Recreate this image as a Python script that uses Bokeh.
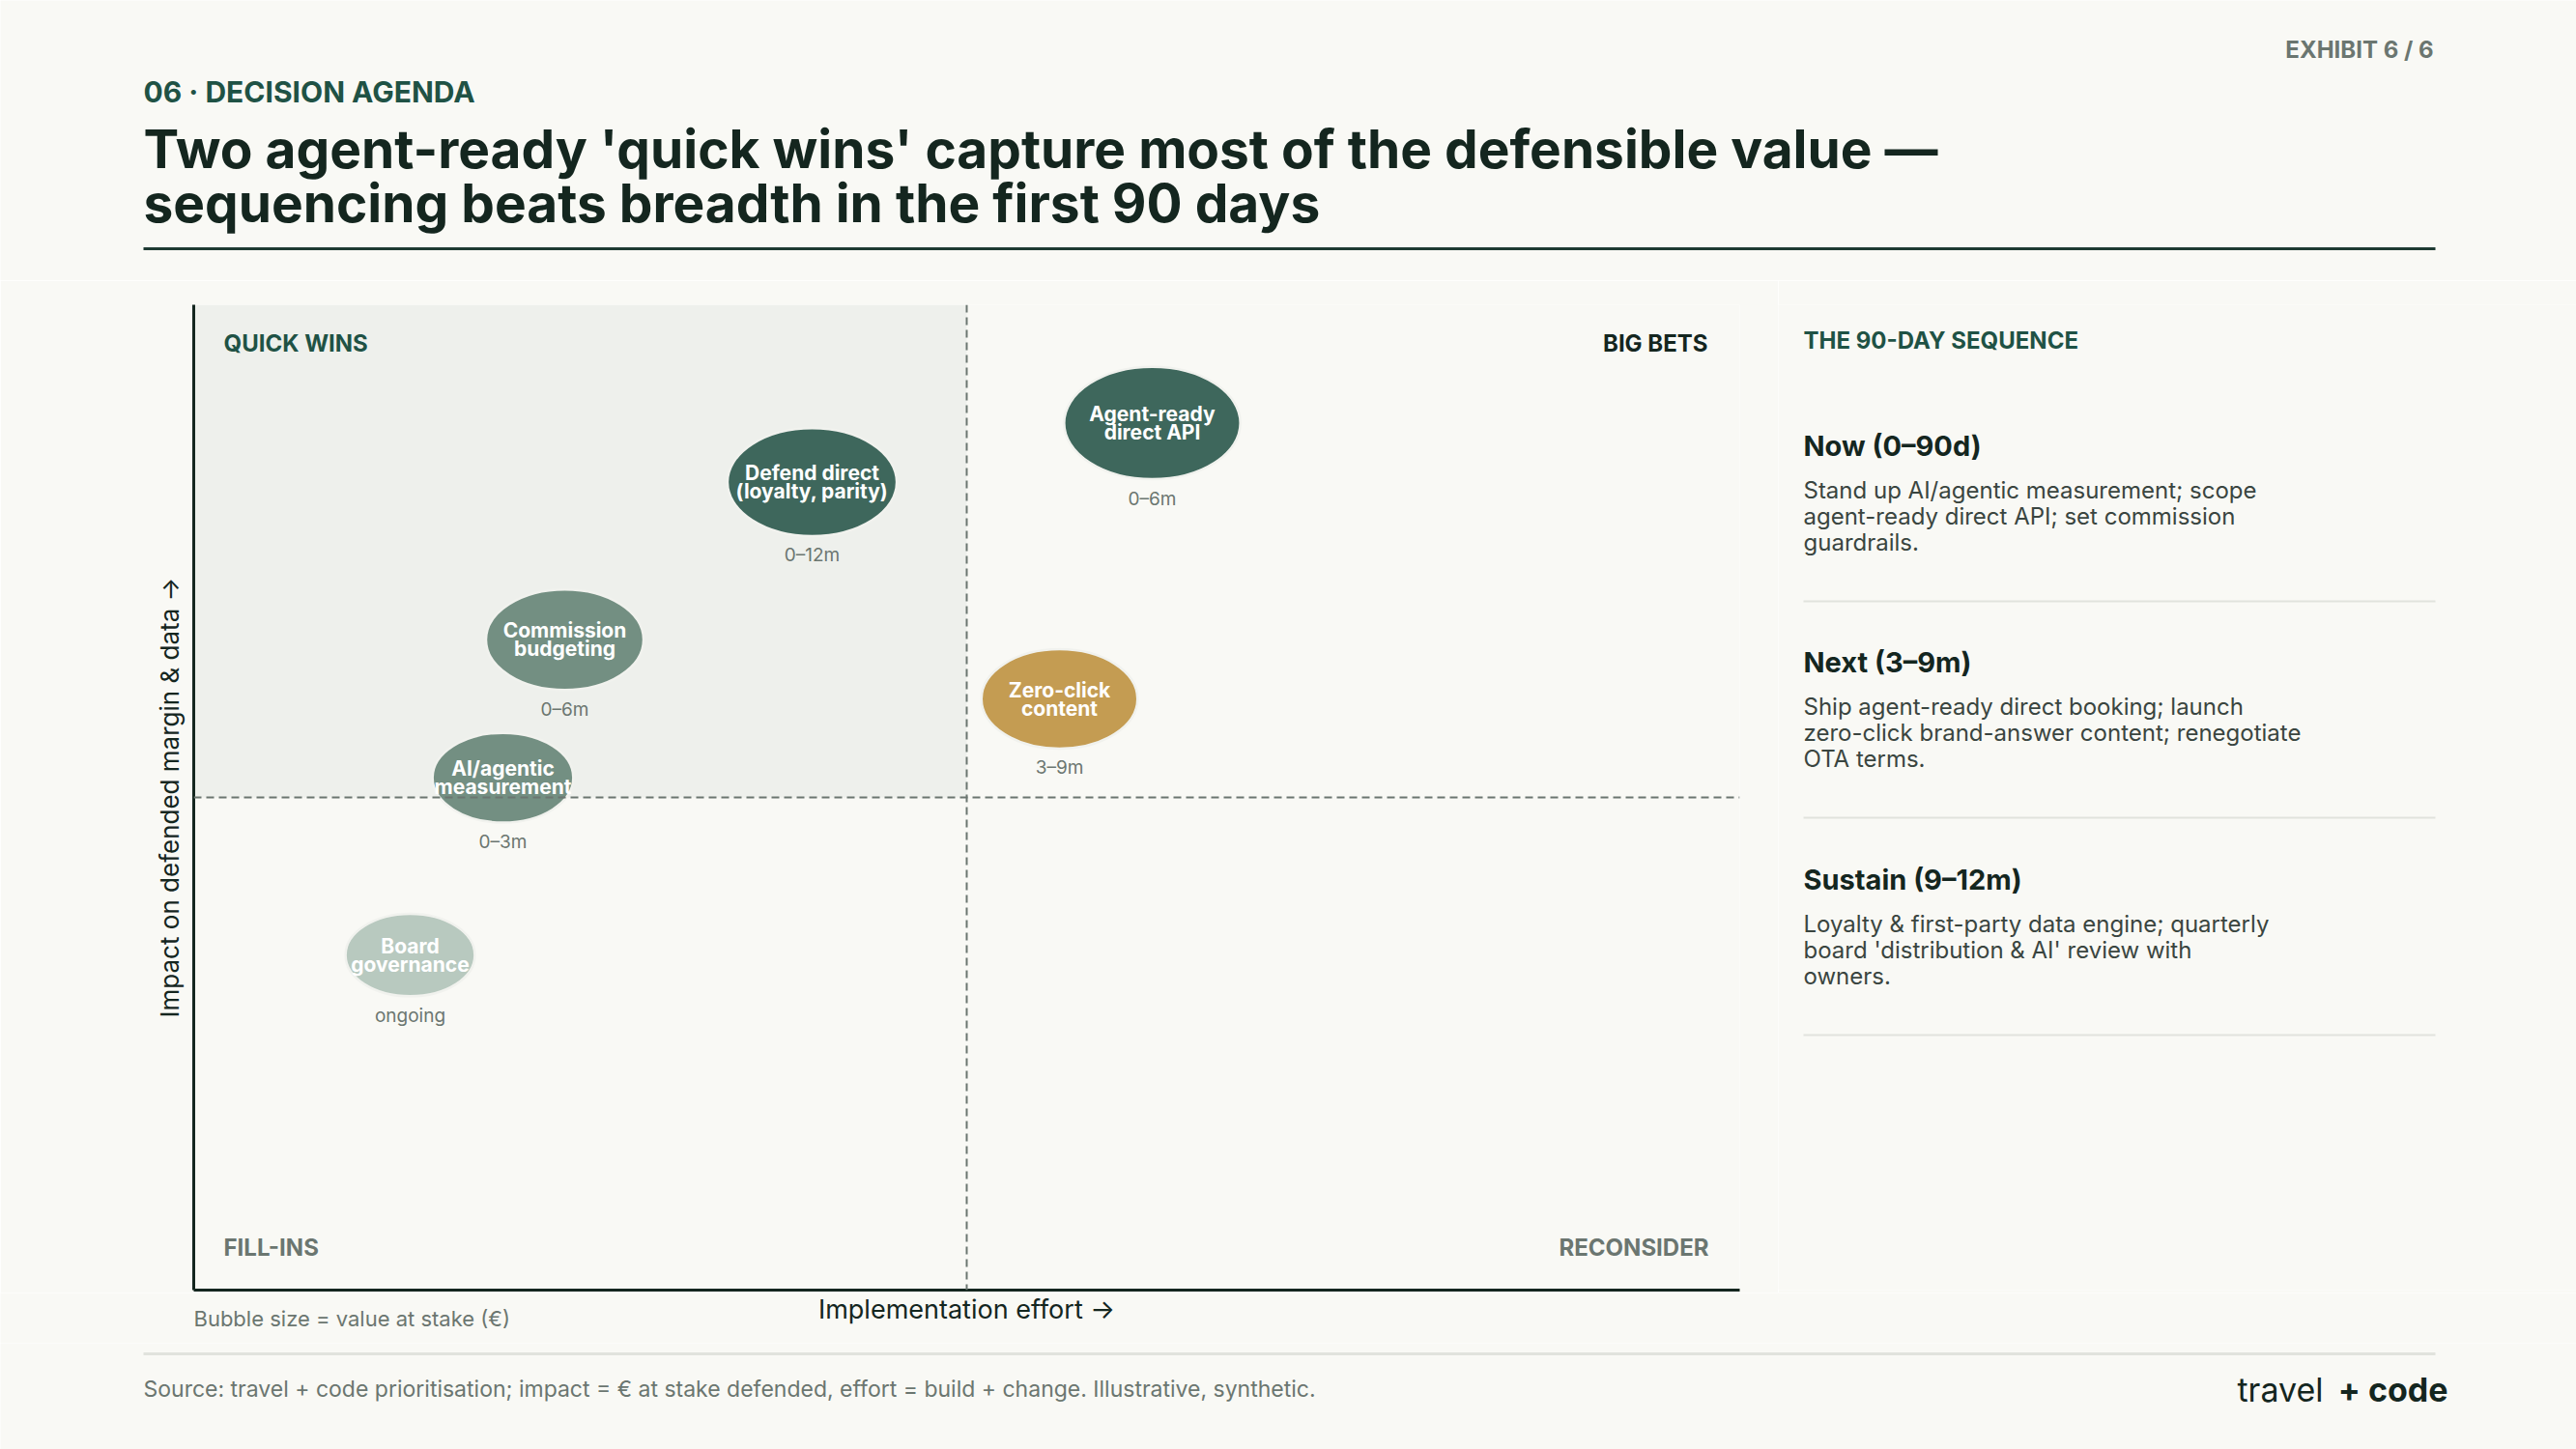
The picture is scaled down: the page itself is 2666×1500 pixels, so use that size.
from bokeh.plotting import figure
from bokeh.layouts import column, row
from bokeh.models import Range1d, Span, FixedTicker, ColumnDataSource
from bokeh.core.properties import value
from bokeh.embed import file_html
from bokeh.resources import INLINE
import math

# ---------------- data ----------------
initiatives = ["Agent-ready\ndirect API", "Defend direct\n(loyalty, parity)", "Commission\nbudgeting",
               "AI/agentic\nmeasurement", "Zero-click\ncontent", "Board\ngovernance"]
effort = [6.2, 4.0, 2.4, 2.0, 5.6, 1.4]          # implementation effort (0-10)
impact = [8.8, 8.2, 6.6, 5.2, 6.0, 3.4]          # impact on defended margin & data (0-10)
value_at_stake = [13.0, 12.0, 10.4, 8.3, 10.2, 7.0]  # € at stake (bubble size)
timing = ["0–6m", "0–12m", "0–6m", "0–3m", "3–9m", "ongoing"]
tier = ["core", "core", "support", "support", "content", "governance"]

effort_threshold = 5
impact_threshold = 5
axis_max = 10

quadrant_names = ["QUICK WINS", "BIG BETS", "FILL-INS", "RECONSIDER"]

seq_heads = ["Now (0–90d)", "Next (3–9m)", "Sustain (9–12m)"]
seq_body = [
    ["Stand up AI/agentic measurement; scope", "agent-ready direct API; set commission", "guardrails."],
    ["Ship agent-ready direct booking; launch", "zero-click brand-answer content; renegotiate", "OTA terms."],
    ["Loyalty & first-party data engine; quarterly", "board 'distribution & AI' review with", "owners."],
]

kicker = "06 · DECISION AGENDA"
title_lines = ["Two agent-ready 'quick wins' capture most of the defensible value —",
               "sequencing beats breadth in the first 90 days"]
exhibit = "EXHIBIT 6 / 6"
source_note = "Source: travel + code prioritisation; impact = € at stake defended, effort = build + change. Illustrative, synthetic."
size_note = "Bubble size = value at stake (€)"
x_label = "Implementation effort →"
y_label = "Impact on defended margin & data →"

# ---------------- style ----------------
BG = "#F9F9F5"
FONT = "Inter"
DARK = "#14261F"
TEAL = "#1F5245"
GRAY = "#6B7670"
BODY = "#3A4540"
RULE_LIGHT = "#E1E3DD"
tier_colors = {"core": "#3E675C", "support": "#738F82", "content": "#C49C52", "governance": "#B8C9BF"}


def base(w, h, xr, yr, **kw):
    f = figure(width=w, height=h, x_range=Range1d(*xr), y_range=Range1d(*yr),
               output_backend="svg", toolbar_location=None,
               x_axis_location=None, y_axis_location=None, **kw)
    f.grid.visible = False
    f.outline_line_color = None
    f.background_fill_color = BG
    f.border_fill_color = BG
    return f


def txt(f, x, y, s, size, color, style="normal", align="left", baseline="middle"):
    f.text(x=[x], y=[y], text=[s], text_font=value(FONT), text_font_size=f"{size}px",
           text_font_style=style, text_color=color, text_align=align, text_baseline=baseline)


W = 2666

# ---------------- header ----------------
head = base(W, 290, (0, W), (290, 0), min_border=0)
txt(head, 148, 94, kicker, 30, TEAL, "bold")
txt(head, 148, 153, title_lines[0], 55, DARK, "bold")
txt(head, 148, 209, title_lines[1], 55, DARK, "bold")
txt(head, 2518, 51, exhibit, 24, GRAY, "bold", align="right")
head.segment(x0=[148], y0=[257], x1=[2520], y1=[257], line_color="#1E3A32", line_width=3)

# ---------------- chart ----------------
chart = figure(width=1840, height=1048, x_range=Range1d(0, axis_max), y_range=Range1d(0, axis_max),
               output_backend="svg", toolbar_location=None,
               min_border_left=200, min_border_right=40, min_border_top=25, min_border_bottom=3)
chart.grid.visible = False
chart.outline_line_color = None
chart.background_fill_color = BG
chart.border_fill_color = BG
for ax in (chart.xaxis, chart.yaxis):
    ax.ticker = FixedTicker(ticks=[])
    ax.axis_line_width = 3
    ax.axis_line_color = DARK
    ax.major_tick_line_color = None
    ax.minor_tick_line_color = None
    ax.major_tick_out = 0
    ax.major_tick_in = 0
    ax.minor_tick_out = 0
    ax.minor_tick_in = 0
    ax.major_label_text_font_size = "0px"
chart.yaxis.axis_label = y_label
chart.yaxis.axis_label_text_font = FONT
chart.yaxis.axis_label_text_font_size = "26px"
chart.yaxis.axis_label_text_font_style = "normal"
chart.yaxis.axis_label_text_color = DARK
chart.yaxis.axis_label_standoff = 10

# quick-wins quadrant shading
chart.quad(left=[0], right=[effort_threshold], bottom=[impact_threshold], top=[axis_max],
           fill_color="#EEF0EC", line_color=None)

chart.add_layout(Span(location=effort_threshold, dimension="height", line_color=GRAY,
                      line_dash="8 5", line_width=2))
chart.add_layout(Span(location=impact_threshold, dimension="width", line_color=GRAY,
                      line_dash="8 5", line_width=2))

# quadrant labels
ql = dict(text_font=value(FONT), text_font_size="24px", text_font_style="bold", text_baseline="middle")
chart.text(x=[0], y=[axis_max], text=[quadrant_names[0]], x_offset=31, y_offset=40, text_align="left", text_color=TEAL, **ql)
chart.text(x=[axis_max], y=[axis_max], text=[quadrant_names[1]], x_offset=-33, y_offset=40, text_align="right", text_color=DARK, **ql)
chart.text(x=[0], y=[0], text=[quadrant_names[2]], x_offset=31, y_offset=-44, text_align="left", text_color=GRAY, **ql)
chart.text(x=[axis_max], y=[0], text=[quadrant_names[3]], x_offset=-32, y_offset=-44, text_align="right", text_color=GRAY, **ql)

diam = [0.316 * math.sqrt(v) for v in value_at_stake]
src = ColumnDataSource(dict(
    x=effort, y=impact, d=diam, label=initiatives, timing=timing,
    color=[tier_colors[t] for t in tier],
    label_y=[yy - dd / 2 for yy, dd in zip(impact, diam)],
))
chart.ellipse(x="x", y="y", width="d", height="d", source=src, fill_color="color",
              line_color="#F1F2EE", line_width=2.5)
chart.text(x="x", y="y", text="label", source=src, text_align="center", text_baseline="middle",
           text_font=value(FONT), text_font_size="21px", text_font_style="bold",
           text_color="white", text_line_height=0.76)
chart.text(x="x", y="label_y", text="timing", source=src, y_offset=20, text_align="center",
           text_baseline="middle", text_font=value(FONT), text_font_size="19px", text_color=GRAY)

# ---------------- side panel ----------------
side = base(826, 1048, (1840, W), (1335, 315), min_border_left=0, min_border_right=0,
            min_border_top=25, min_border_bottom=3)
txt(side, 1866, 352, "THE 90-DAY SEQUENCE", 24, TEAL, "bold")
head_y = [461, 685, 910]
for hy, h, body in zip(head_y, seq_heads, seq_body):
    txt(side, 1866, hy, h, 29, DARK, "bold")
    for i, line in enumerate(body):
        txt(side, 1866, hy + 46 + 27 * i, line, 24, BODY)
    side.segment(x0=[1866], y0=[hy + 161], x1=[2520], y1=[hy + 161], line_color=RULE_LIGHT, line_width=2)

# ---------------- caption under chart ----------------
cap = base(W, 52, (0, W), (1390, 1338), min_border=0)
txt(cap, 200, 1364, size_note, 22, GRAY)
txt(cap, 1000, 1355, x_label, 27, DARK, align="center")

# ---------------- footer ----------------
foot = base(W, 110, (0, W), (1500, 1390), min_border=0)
foot.segment(x0=[148], y0=[1401], x1=[2520], y1=[1401], line_color=RULE_LIGHT, line_width=3)
txt(foot, 148, 1437, source_note, 23, GRAY)
txt(foot, 2404, 1438, "travel", 34, DARK, "normal", align="right")
txt(foot, 2533, 1438, "+ code", 34, DARK, "bold", align="right")

p = column(head, row(chart, side), cap, foot)
open("out.html", "w").write(file_html(p, INLINE))
